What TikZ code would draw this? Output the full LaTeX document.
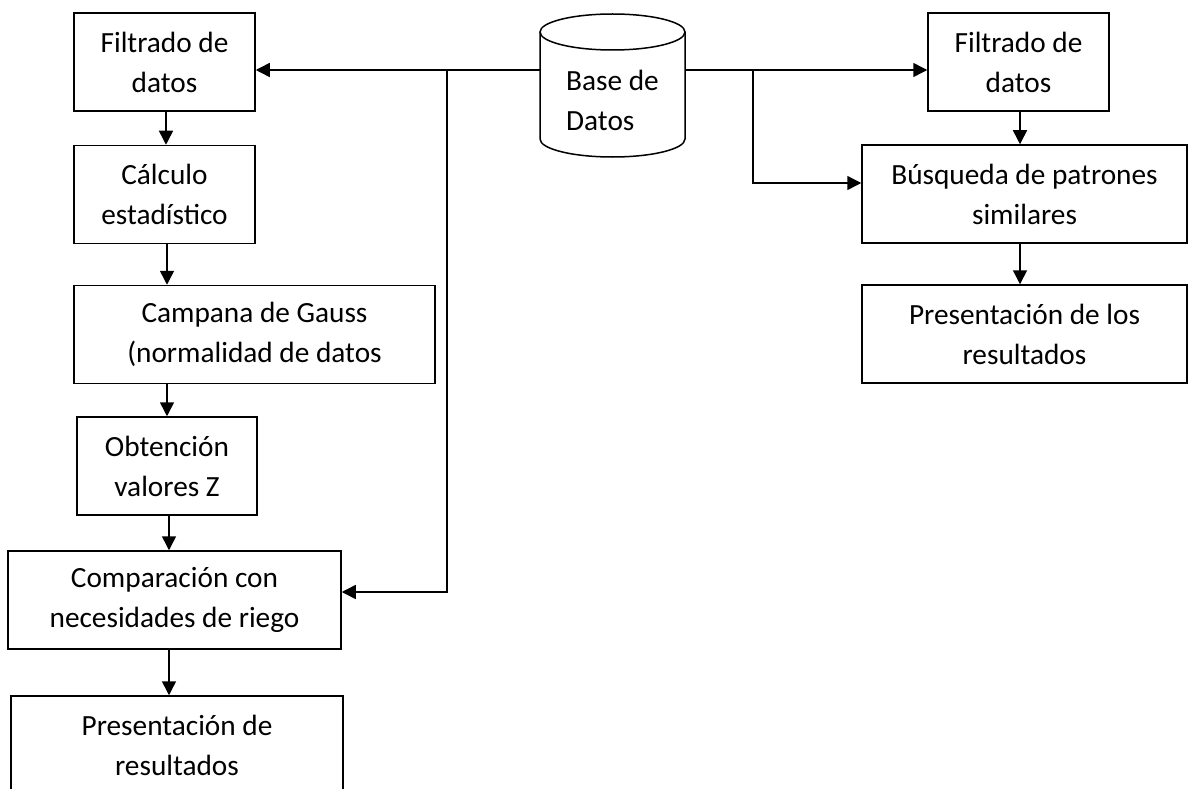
\documentclass[tikz,border=0pt]{standalone}
\usepackage{fontspec}
\setmainfont{Carlito}
\usetikzlibrary{arrows.meta}
\begin{document}
\begin{tikzpicture}[x=1pt,y=-1pt,
  every node/.style={font=\fontsize{29.3}{40}\selectfont, inner sep=0pt},
  box/.style={draw, line width=1.5pt, align=center, minimum height=98pt},
  link/.style={line width=1.5pt},
  arr/.style={link, -{Triangle[length=14pt,width=14pt]}}]
\clip (0,0) rectangle (1188,789);
\fill[white] (0,0) rectangle (1188,789);

% left branch: statistical analysis
\node[box, minimum width=181pt] (f1)    at (164.5,62)  {Filtrado de\\datos};
\node[box, minimum width=181pt] (calc)  at (164.5,194.5) {Cálculo\\estadístico};
\node[box, minimum width=361pt] (gauss) at (254.5,334.5) {Campana de Gauss\\(normalidad de datos};
\node[box, minimum width=180pt] (zval)  at (167,466)   {Obtención\\valores Z};
\node[box, minimum width=333pt] (comp)  at (174.5,600) {Comparación con\\necesidades de riego};
\node[box, minimum width=332pt] (pres)  at (177,745)   {Presentación de\\resultados};

% right branch: pattern search
\node[box, minimum width=181pt] (rf1)   at (1018.5,62) {Filtrado de\\datos};
\node[box, minimum width=325pt] (bus)   at (1024.5,194) {Búsqueda de patrones\\similares};
\node[box, minimum width=325pt] (rpres) at (1024.5,334) {Presentación de los\\resultados};

% database cylinder
\node[minimum width=145pt, minimum height=144pt, align=left] (db) at (612.5,100) {Base de\\Datos};
\draw[line width=1.5pt] (540,32) -- (540,139)
  arc[start angle=180, end angle=0, x radius=72.5, y radius=18] -- (685,32);
\draw[line width=1.5pt] (612.5,32) ellipse [x radius=72.5, y radius=18];

% junctions on the distribution lines
\coordinate (jL)  at (447,70);
\coordinate (jL2) at (447,592);
\coordinate (jR)  at (753,70);
\coordinate (jR2) at (753,183);

% connectors from the database
\draw[arr] (db.west |- jL) -- (f1.east |- jL);
\draw[arr] (jL) -- (jL2) -- (comp.east |- jL2);
\draw[arr] (db.east |- jR) -- (rf1.west |- jR);
\draw[arr] (jR) -- (jR2) -- (bus.west |- jR2);

% sequential flow, left
\draw[arr] (f1.south -| 166,0) -- (calc.north -| 166,0);
\draw[arr] (calc.south -| 167,0) -- (gauss.north -| 167,0);
\draw[arr] (gauss.south -| 167,0) -- (zval.north -| 167,0);
\draw[arr] (zval.south -| 169,0) -- (comp.north -| 169,0);
\draw[arr] (comp.south -| 169,0) -- (pres.north -| 169,0);

% sequential flow, right
\draw[arr] (rf1.south -| 1020,0) -- (bus.north -| 1020,0);
\draw[arr] (bus.south -| 1020,0) -- (rpres.north -| 1020,0);
\end{tikzpicture}
\end{document}
